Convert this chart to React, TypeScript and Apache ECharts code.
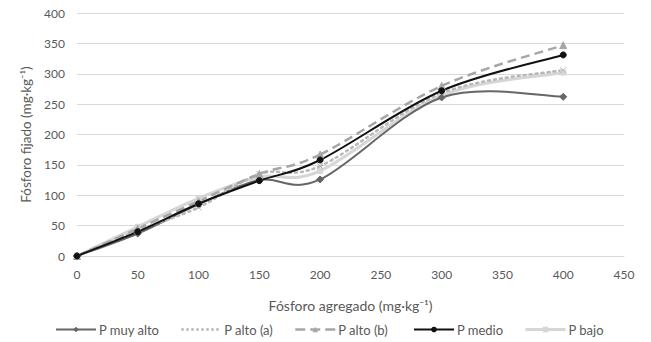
import React, { useEffect, useRef } from "react";
import * as echarts from "echarts";

const xValues = [0, 50, 100, 150, 200, 300, 400];
const pMuyAlto = [0, 37, 85, 125, 126, 261, 262];
const pAltoA = [0, 42, 80, 135, 148, 268, 306];
const pAltoB = [0, 45, 90, 135, 167, 280, 347];
const pMedio = [0, 40, 86, 124, 158, 272, 331];
const pBajo = [0, 48, 95, 130, 140, 264, 302];

const seriesNames = ["P muy alto", "P alto (a)", "P alto (b)", "P medio", "P bajo"];
const legendLefts = [55, 180, 294, 413, 524];

const FONT = "Lato, 'Open Sans', sans-serif";

type Spec = {
  name: string;
  data: number[];
  color: string;
  dash: string;
  lineDash: number[] | null;
  width: number;
  symbol: string;
  size: number;
  z: number;
};

const specs: Spec[] = [
  { name: seriesNames[4], data: pBajo, color: "#d6d6d6", dash: "solid", lineDash: null, width: 3, symbol: "rect", size: 5, z: 1 },
  { name: seriesNames[0], data: pMuyAlto, color: "#666666", dash: "solid", lineDash: null, width: 2, symbol: "diamond", size: 7, z: 2 },
  { name: seriesNames[1], data: pAltoA, color: "#b8b8b8", dash: "dotted", lineDash: [2, 4], width: 2.5, symbol: "path://M0,0L10,10M10,0L0,10", size: 6, z: 3 },
  { name: seriesNames[2], data: pAltoB, color: "#a6a6a6", dash: "dashed", lineDash: [9, 5], width: 2.5, symbol: "triangle", size: 7, z: 4 },
  { name: seriesNames[3], data: pMedio, color: "#111111", dash: "solid", lineDash: null, width: 2, symbol: "circle", size: 6, z: 5 },
];

export default function App() {
  const ref = useRef<HTMLDivElement>(null);
  useEffect(() => {
    if (!ref.current) return;
    const chart = echarts.init(ref.current, undefined, { renderer: "svg" });
    const pair = (arr: number[]) => xValues.map((x, i) => [x, arr[i]]);

    const curveSeries = specs.map((s) => ({
      name: s.name + " curva",
      type: "custom",
      data: pair(s.data),
      encode: { x: 0, y: 1 },
      z: s.z,
      silent: true,
      renderItem: (params: any, api: any) => {
        const i = params.dataIndex;
        const n = xValues.length;
        if (i >= n - 1) return null;
        const pt = (k: number) => {
          const kk = Math.max(0, Math.min(n - 1, k));
          return api.coord([xValues[kk], s.data[kk]]);
        };
        const p0 = pt(i - 1);
        const p1 = pt(i);
        const p2 = pt(i + 1);
        const p3 = pt(i + 2);
        const t = 1 / 6;
        return {
          type: "bezierCurve",
          shape: {
            x1: p1[0],
            y1: p1[1],
            x2: p2[0],
            y2: p2[1],
            cpx1: p1[0] + (p2[0] - p0[0]) * t,
            cpy1: p1[1] + (p2[1] - p0[1]) * t,
            cpx2: p2[0] - (p3[0] - p1[0]) * t,
            cpy2: p2[1] - (p3[1] - p1[1]) * t,
          },
          style: {
            fill: "none",
            stroke: s.color,
            lineWidth: s.width,
            lineDash: s.lineDash || undefined,
            lineCap: s.dash === "dotted" ? "round" : "butt",
          },
        };
      },
    }));

    const markerSeries = specs.map((s) => ({
      name: s.name,
      type: "line",
      data: pair(s.data),
      symbol: s.symbol,
      symbolSize: s.size,
      z: s.z + 10,
      lineStyle: { color: s.color, width: 0, opacity: 0 },
      itemStyle: { color: s.color, borderColor: s.color },
    }));

    const legends = seriesNames.map((nm, idx) => {
      const s = specs.find((q) => q.name === nm) as Spec;
      return {
        data: [
          {
            name: s.name,
            lineStyle: { color: s.color, width: s.width, opacity: 1, type: s.dash },
          },
        ],
        left: legendLefts[idx],
        top: 323,
        padding: 0,
        itemWidth: 40,
        itemHeight: 7,
        textStyle: { color: "#595959", fontSize: 13, fontFamily: FONT, padding: [0, 0, 0, -2] },
      };
    });

    chart.setOption({
      animation: false,
      textStyle: { fontFamily: FONT },
      grid: { left: 77, right: 27, top: 13, bottom: 86, containLabel: false },
      xAxis: {
        type: "value",
        min: 0,
        max: 450,
        interval: 50,
        name: "Fósforo agregado (mg·kg⁻¹)",
        nameLocation: "middle",
        nameGap: 42,
        nameTextStyle: { color: "#595959", fontSize: 14, fontFamily: FONT },
        axisLine: { show: true, lineStyle: { color: "#d9d9d9" } },
        axisTick: { show: false },
        splitLine: { show: false },
        axisLabel: { color: "#595959", fontSize: 12, margin: 12, fontFamily: FONT },
      },
      yAxis: {
        type: "value",
        min: 0,
        max: 400,
        interval: 50,
        name: "Fósforo fijado (mg·kg⁻¹)",
        nameLocation: "middle",
        nameGap: 33,
        nameTextStyle: { color: "#595959", fontSize: 13.5, fontFamily: FONT },
        axisLine: { show: false },
        axisTick: { show: false },
        splitLine: { lineStyle: { color: "#d9d9d9", width: 1 } },
        axisLabel: { color: "#595959", fontSize: 12, margin: 12, fontFamily: FONT },
      },
      legend: legends,
      series: [...curveSeries, ...markerSeries],
    });
    return () => chart.dispose();
  }, []);
  return <div ref={ref} style={{ width: 651, height: 342, position: "absolute", left: 0, top: 0, background: "#fff" }} />;
}
